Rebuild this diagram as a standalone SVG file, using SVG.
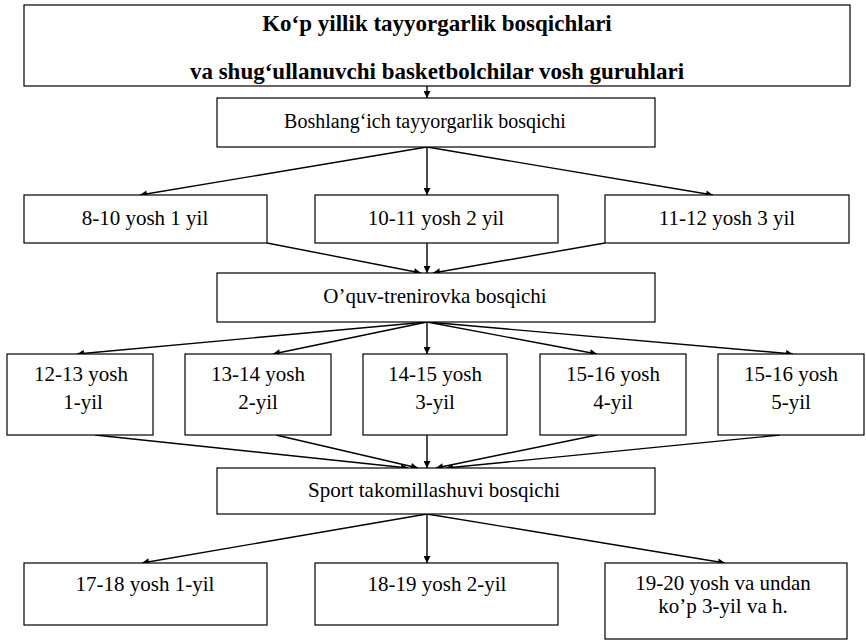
<svg xmlns="http://www.w3.org/2000/svg" width="866" height="641" viewBox="0 0 866 641">
<style>
.box{fill:#fff;stroke:#000;stroke-width:1.2}
.t{font-family:"Liberation Serif","Times New Roman",serif;font-size:21px;fill:#000;text-anchor:middle}
.s{font-size:20px}
.b{font-weight:bold;font-size:23px}
.c{stroke:#000;stroke-width:1.4;fill:none;marker-end:url(#ah)}
</style>
<defs>
<marker id="ah" viewBox="0 0 10 10" refX="10" refY="5" markerWidth="10" markerHeight="7" markerUnits="userSpaceOnUse" orient="auto">
<path d="M0,0 L10,5 L0,10 z" fill="#000"/>
</marker>
</defs>
<rect width="866" height="641" fill="#fff"/>
<g id="connectors">
<line class="c" x1="427" y1="86" x2="427" y2="98"/>
<line class="c" x1="427" y1="147" x2="140" y2="195"/>
<line class="c" x1="427" y1="147" x2="427" y2="195"/>
<line class="c" x1="427" y1="147" x2="713" y2="195"/>
<line class="c" x1="267" y1="243" x2="421" y2="273"/>
<line class="c" x1="427" y1="243" x2="427" y2="273"/>
<line class="c" x1="605" y1="243" x2="433" y2="273"/>
<line class="c" x1="427" y1="322" x2="77" y2="354"/>
<line class="c" x1="427" y1="322" x2="273" y2="354"/>
<line class="c" x1="427" y1="322" x2="427" y2="354"/>
<line class="c" x1="427" y1="322" x2="597" y2="354"/>
<line class="c" x1="427" y1="322" x2="793" y2="354"/>
<line class="c" x1="95" y1="435" x2="408" y2="468"/>
<line class="c" x1="276" y1="435" x2="418" y2="468"/>
<line class="c" x1="427" y1="435" x2="427" y2="468"/>
<line class="c" x1="597" y1="435" x2="436" y2="468"/>
<line class="c" x1="780" y1="435" x2="446" y2="468"/>
<line class="c" x1="427" y1="514" x2="142" y2="563"/>
<line class="c" x1="427" y1="514" x2="427" y2="563"/>
<line class="c" x1="427" y1="514" x2="725" y2="563"/>
</g>
<g id="n-top">
<rect class="box" x="24" y="5" width="826" height="81"/>
<text class="t b" x="437" y="31">Ko‘p yillik tayyorgarlik bosqichlari</text>
<text class="t b" x="437" y="79">va shug‘ullanuvchi basketbolchilar vosh guruhlari</text>
</g>
<g id="n-boshlang">
<rect class="box" x="217" y="98" width="438" height="49"/>
<text class="t s" x="425" y="128">Boshlang‘ich tayyorgarlik bosqichi</text>
</g>
<g id="n-8-10">
<rect class="box" x="24" y="195" width="243" height="48"/>
<text class="t" x="145" y="225">8-10 yosh 1 yil</text>
</g>
<g id="n-10-11">
<rect class="box" x="315" y="195" width="243" height="48"/>
<text class="t" x="436" y="225">10-11 yosh 2 yil</text>
</g>
<g id="n-11-12">
<rect class="box" x="605" y="195" width="244" height="48"/>
<text class="t" x="727" y="225">11-12 yosh 3 yil</text>
</g>
<g id="n-oquv">
<rect class="box" x="217" y="273" width="438" height="49"/>
<text class="t" x="435" y="303">O’quv-trenirovka bosqichi</text>
</g>
<g id="n-12-13">
<rect class="box" x="7" y="354" width="146" height="81"/>
<text class="t" x="81" y="381">12-13 yosh</text>
<text class="t" x="83" y="409">1-yil</text>
</g>
<g id="n-13-14">
<rect class="box" x="185" y="354" width="146" height="81"/>
<text class="t" x="258" y="381">13-14 yosh</text>
<text class="t" x="258" y="409">2-yil</text>
</g>
<g id="n-14-15">
<rect class="box" x="363" y="354" width="144" height="81"/>
<text class="t" x="435" y="381">14-15 yosh</text>
<text class="t" x="435" y="409">3-yil</text>
</g>
<g id="n-15-16a">
<rect class="box" x="540" y="354" width="146" height="81"/>
<text class="t" x="613" y="381">15-16 yosh</text>
<text class="t" x="613" y="409">4-yil</text>
</g>
<g id="n-15-16b">
<rect class="box" x="718" y="354" width="146" height="81"/>
<text class="t" x="791" y="381">15-16 yosh</text>
<text class="t" x="791" y="409">5-yil</text>
</g>
<g id="n-sport">
<rect class="box" x="217" y="468" width="438" height="46"/>
<text class="t" x="434" y="497">Sport takomillashuvi bosqichi</text>
</g>
<g id="n-17-18">
<rect class="box" x="24" y="563" width="243" height="62"/>
<text class="t" x="145" y="591">17-18 yosh 1-yil</text>
</g>
<g id="n-18-19">
<rect class="box" x="315" y="563" width="243" height="62"/>
<text class="t" x="437" y="591">18-19 yosh 2-yil</text>
</g>
<g id="n-19-20">
<rect class="box" x="605" y="563" width="242" height="76"/>
<text class="t" x="723" y="590">19-20 yosh va undan</text>
<text class="t" x="723" y="613">ko’p 3-yil va h.</text>
</g>
</svg>
